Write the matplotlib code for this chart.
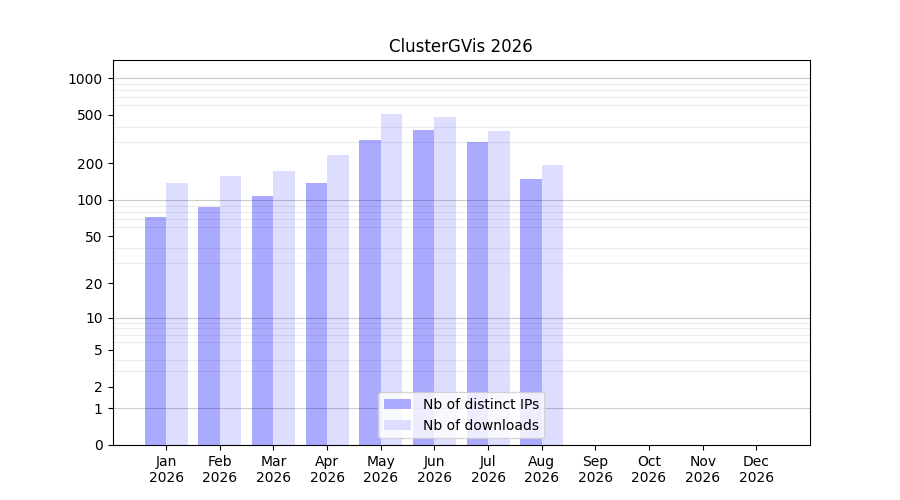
import matplotlib
matplotlib.use("Agg")
import matplotlib.pyplot as plt
import numpy as np

# monthly stats for 2026 (only Jan-Aug have data)
months = ["Jan", "Feb", "Mar", "Apr", "May", "Jun", "Jul", "Aug", "Sep", "Oct", "Nov", "Dec"]
year = 2026
distinct_ips = [73, 87, 108, 138, 312, 376, 300, 149]
downloads = [138, 158, 174, 235, 509, 480, 369, 195]

tick_values = [0, 1, 2, 5, 10, 20, 50, 100, 200, 500, 1000]

x = np.arange(len(months))
xb = x[:len(distinct_ips)]
width = 0.4

fig = plt.figure(figsize=(9, 5), dpi=100)
ax = fig.add_subplot(1, 1, 1)

fwd = lambda y: np.log10(np.asarray(y, dtype=float) + 1)
inv = lambda y: 10 ** np.asarray(y, dtype=float) - 1
ax.set_yscale("function", functions=(fwd, inv))

ax.bar(xb, distinct_ips, width=-width, align="edge", color="#aaaaff",
       label="Nb of distinct IPs")
ax.bar(xb, downloads, width=width, align="edge", color="#ddddff",
       label="Nb of downloads")

ax.set_ylim(0, 1410)
ax.set_xlim(-1, 12)

ax.set_yticks(tick_values)
ax.set_yticklabels([str(v) for v in tick_values])
minor = [m * 10 ** d for d in range(3) for m in range(2, 10)]
ax.set_yticks(minor, minor=True)
ax.tick_params(axis="y", which="minor", length=0)

ax.set_axisbelow(False)
ax.grid(False)
ax.grid(True, axis="y", which="minor", color="black", alpha=0.07, linewidth=0.8)
for v in [1, 10, 100, 1000]:
    ax.axhline(v, color="black", alpha=0.2, linewidth=0.8)

ax.set_xticks(x)
ax.set_xticklabels(["%s\n%d" % (m, year) for m in months])

ax.set_title("ClusterGVis %d" % year)
ax.legend(loc="lower center")

fig.savefig("out.png", dpi=100)
